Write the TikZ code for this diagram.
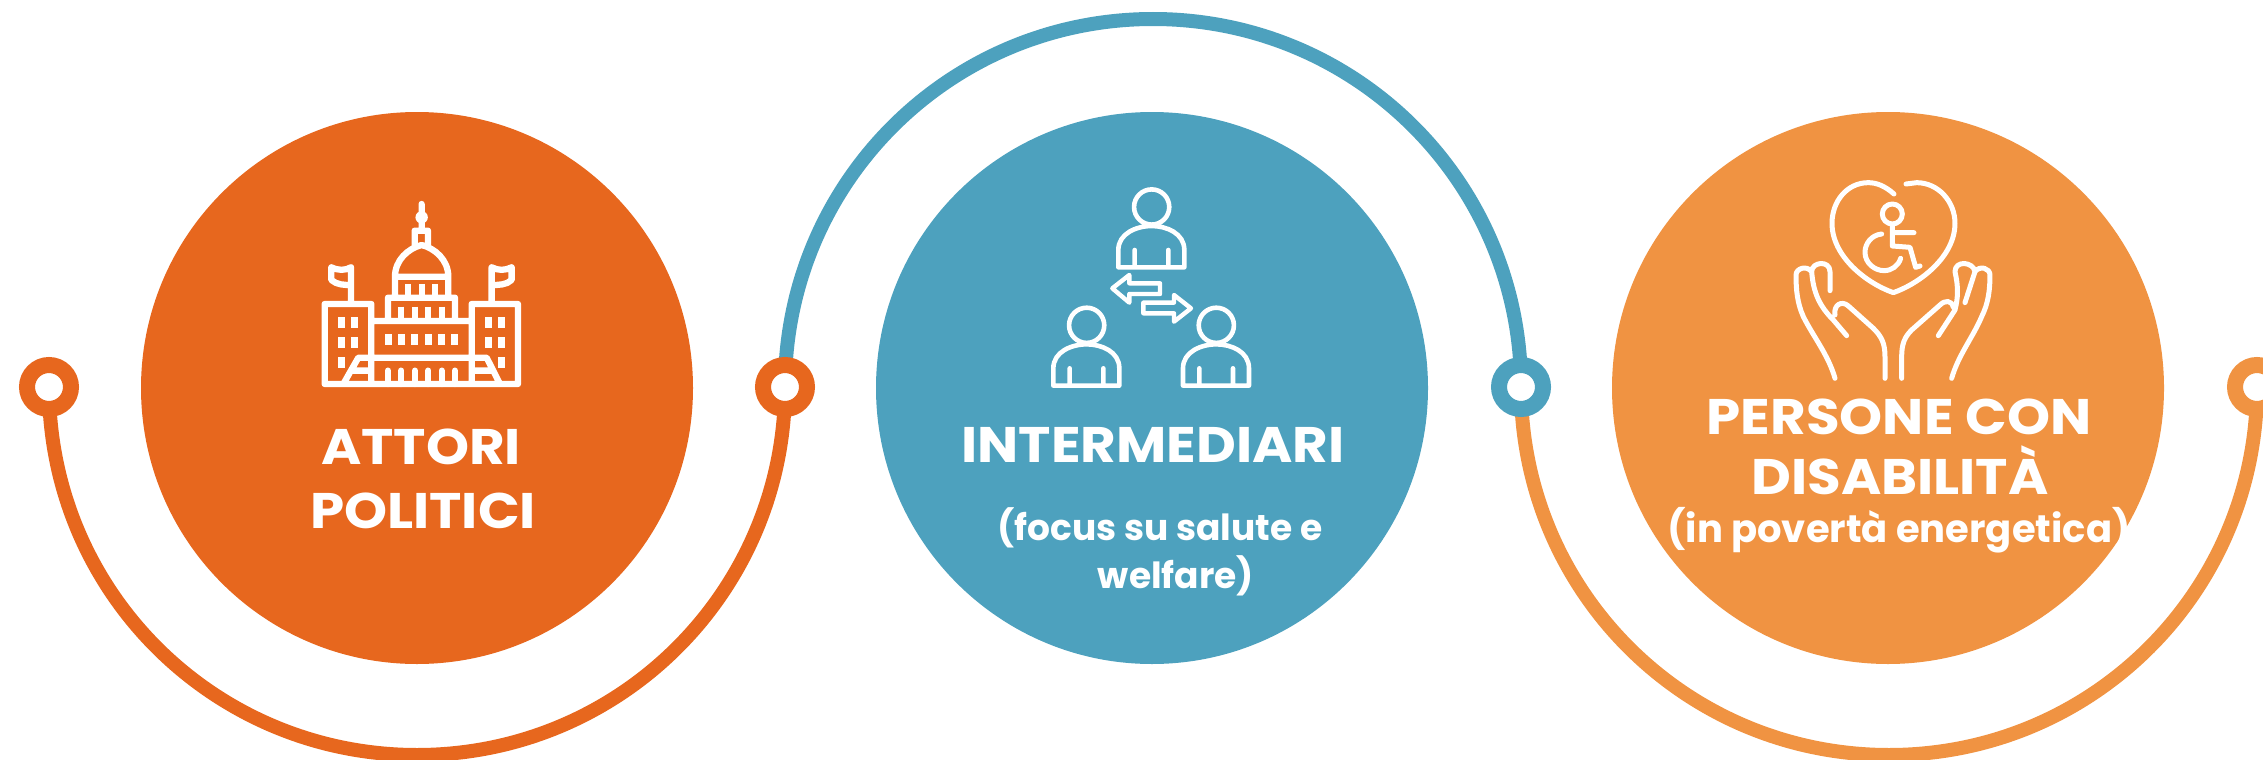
\documentclass[tikz,border=0pt]{standalone}
\usepackage{fontspec}
\setmainfont{Poppins}
\newfontfamily\titlefont{Poppins}[FakeStretch=1.095]
\usetikzlibrary{backgrounds}
\definecolor{politiciCol}{HTML}{E7671E}
\definecolor{mediaCol}{HTML}{4DA1BE}
\definecolor{personeCol}{HTML}{F09342}
\begin{document}
\begin{tikzpicture}
[x=1pt,y=-1pt,
  discDecorate/.style={shape=circle,inner sep=0pt,minimum size=552pt},
  ringDecorate/.style={shape=circle,inner sep=0pt,minimum size=44pt,line width=16pt,fill=white,draw},
  lineDecorate/.style={-,line width=14pt},
  titleDecorate/.style={anchor=base,text=white,font=\titlefont\bfseries\fontsize{50}{60}\selectfont},
  smallDecorate/.style={anchor=base,text=white,font=\bfseries\fontsize{36}{44}\selectfont},
  iconDecorate/.style={white,line width=6.3pt,line join=round,line cap=round,fill=none},
  thinDecorate/.style={white,line width=5pt,line join=round,line cap=round,fill=none},
  zoomA/.style={shift={(280,180)},x=0.3333pt,y=-0.3333pt},
  zoomB/.style={shift={(1020,170)},x=0.3333pt,y=-0.3333pt},
  zoomC/.style={shift={(1770,160)},x=0.3333pt,y=-0.3333pt}]
\useasboundingbox (0,0) rectangle (2263,760);
%% discs
\foreach \nodename/\x/\col in {
  discA/417/politiciCol, discB/1152/mediaCol, discC/1888/personeCol}
{
  \node (\nodename) at (\x,388) [discDecorate,fill=\col] {};
}
%% rings and lowest/highest points of the lines
\foreach \nodename/\x/\col in {
  ringA/49/politiciCol, ringB/785/politiciCol,
  ringC/1521/mediaCol, ringD/2257/personeCol}
{
  \node (\nodename) at (\x,387) [ringDecorate,draw=\col] {};
}
\coordinate (lowA) at (417,755);
\coordinate (topB) at (1153,19);
\coordinate (lowC) at (1889,755);
%% lines
\begin{scope}[on background layer]
  \draw[lineDecorate,politiciCol] (ringA.center) to[out=-90,in=180] (lowA)
    to[out=0,in=-90] (ringB.center);
  \draw[lineDecorate,mediaCol] (ringB.center) to[out=90,in=180] (topB)
    to[out=0,in=90] (ringC.center);
  \draw[lineDecorate,personeCol] (ringC.center) to[out=-90,in=180] (lowC)
    to[out=0,in=-90] (ringD.center);
\end{scope}
%% texts
\node (attori) at (421,464) [titleDecorate] {ATTORI};
\node (politici) at (423,528) [titleDecorate] {POLITICI};
\node (intermediari) at (1153,462) [titleDecorate] {INTERMEDIARI};
\node (focus) at (1160,540) [smallDecorate] {(focus su salute e};
\node (welfare) at (1176,588) [smallDecorate] {welfare)};
\node (persone) at (1899,434) [titleDecorate] {PERSONE CON};
\node (disabilita) at (1900,494) [titleDecorate] {DISABILITÀ};
\node (poverta) at (1899,542) [smallDecorate,font=\bfseries\fontsize{38.5}{44}\selectfont] {(in povertà energetica)};
%% building
\begin{scope}[zoomA]
  \draw[iconDecorate]
    (134,372) rectangle (274,612) (575,372) rectangle (714,612)
    (274,423) -- (575,423) (134,612) -- (714,612)
    (190,612) -- (235,533) -- (620,533) -- (660,612)
    (215,572) -- (274,572) (575,572) -- (640,572)
    (324,423) -- (324,353) -- (525,353) -- (525,423)
    (345,353) -- (345,290) -- (505,290) -- (505,353)
    (345,290) .. controls (345,240) and (385,205) .. (425,195)
      .. controls (465,205) and (505,240) .. (505,290)
    (404,195) -- (404,152) -- (444,152) -- (444,195)
    (425,72) -- (425,152)
    (213,262) -- (213,363) (635,262) -- (635,363)
    (154,262) .. controls (175,272) and (195,272) .. (213,262)
    (154,262) -- (154,300) .. controls (170,315) and (195,315) .. (213,315)
    (635,262) .. controls (655,272) and (675,272) .. (695,262)
    (695,262) -- (695,300) .. controls (680,315) and (655,315) .. (635,315);
  \foreach \x in {364,405,445,485} {\draw[iconDecorate,line cap=butt] (\x,380) -- (\x,413);}
  \foreach \x in {384,425,465} {\draw[iconDecorate,line cap=butt] (\x,312) -- (\x,345);}
  \foreach \x in {324,364,405,445,485,525} {\draw[iconDecorate] (\x,572) -- (\x,612);}
  \fill[white] (425,112) circle[radius=6.2pt];
  \foreach \x/\y in {174/411,214/411,174/471,214/471,174/531,
    615/411,655/411,615/471,655/471,655/531}
  {
    \fill[white] (\x,\y) rectangle ++(20,32);
  }
  \foreach \x in {315,354,393,435,475,514}
  {
    \fill[white] (\x,462) rectangle ++(20,32);
  }
\end{scope}
%% people
\begin{scope}[zoomB]
  \foreach \dx/\dy in {0/0,-195/355,194/355}
  {
    \begin{scope}[shift={(\dx*0.3333pt,-\dy*0.3333pt)}]
      \draw[iconDecorate,line width=4.6pt] (395,111) circle[radius=17.6pt]
        (295,292) -- (295,240) .. controls (295,190) and (350,168) .. (395,168)
        .. controls (440,168) and (493,190) .. (493,240) -- (493,292) -- cycle
        (344,240) -- (344,292) (445,240) -- (445,292);
    \end{scope}
  }
  \draw[iconDecorate,line width=4.4pt] (277,355) -- (328,315) -- (328,340) -- (420,340)
    -- (420,372) -- (328,372) -- (328,398) -- cycle;
  \draw[iconDecorate,line width=4.4pt] (513,415) -- (462,375) -- (462,398) -- (370,398)
    -- (370,430) -- (462,430) -- (462,455) -- cycle;
\end{scope}
%% heart and hands
\begin{scope}[zoomC]
  \draw[thinDecorate]
    (372,102) .. controls (345,78) and (320,68) .. (295,68)
      .. controls (230,68) and (186,125) .. (186,190)
      .. controls (186,290) and (290,370) .. (370,398)
      .. controls (450,370) and (555,290) .. (555,190)
      .. controls (555,125) and (505,68) .. (440,68) -- (408,72)
    (367,162) circle[radius=10pt]
    (367,195) -- (367,258) -- (420,262) -- (437,322) -- (450,318)
    (367,218) -- (432,218)
    (335,222) .. controls (305,225) and (285,250) .. (285,277)
      .. controls (285,310) and (315,332) .. (342,332)
      .. controls (365,332) and (385,318) .. (392,295);
  \draw[thinDecorate]
    (195,655) .. controls (175,585) and (130,530) .. (100,470)
      .. controls (82,430) and (78,390) .. (78,345)
      .. controls (78,325) and (110,315) .. (125,335)
      .. controls (125,305) and (180,300) .. (180,335) -- (180,392)
    (125,335) .. controls (130,400) and (150,440) .. (190,480) -- (230,527)
    (195,465) .. controls (190,435) and (215,420) .. (235,438) -- (310,505)
      .. controls (335,530) and (345,550) .. (345,590) -- (345,655);
  \draw[thinDecorate]
    (545,655) .. controls (565,585) and (610,530) .. (635,470)
      .. controls (655,430) and (660,390) .. (660,345)
      .. controls (660,325) and (630,315) .. (615,335)
      .. controls (610,305) and (555,300) .. (555,335)
      .. controls (565,380) and (565,410) .. (555,450) -- (505,527)
    (615,335) -- (585,428)
    (550,442) .. controls (545,420) and (525,420) .. (510,435) -- (425,510)
      .. controls (405,530) and (395,550) .. (395,590) -- (395,655);
\end{scope}
\end{tikzpicture}
\end{document}
